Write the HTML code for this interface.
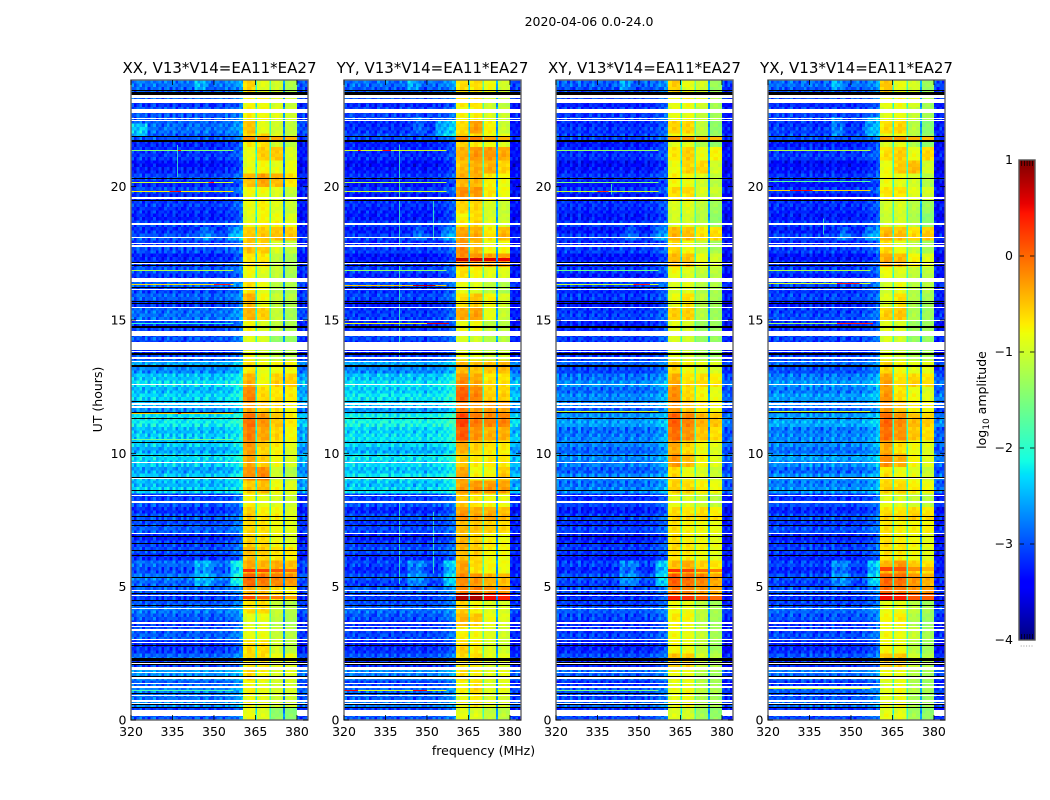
<!DOCTYPE html>
<html lang="en">
<head>
<meta charset="utf-8">
<title>2020-04-06 dynamic spectra</title>
<style>
html,body{margin:0;padding:0;background:#fff;width:1050px;height:800px;overflow:hidden}
svg{display:block}
text{font-family:"DejaVu Sans","Liberation Sans",sans-serif;fill:#000}
</style>
</head>
<body>
<svg id="chart" xmlns="http://www.w3.org/2000/svg" width="1050" height="800" viewBox="0 0 1050 800">
<rect width="1050" height="800" fill="#fff"/>
<text x="589" y="26" font-size="12.5" text-anchor="middle">2020-04-06 0.0-24.0</text>
<text x="483.5" y="755" font-size="12.5" text-anchor="middle">frequency (MHz)</text>
<text transform="translate(102,399.5) rotate(-90)" font-size="12.5" text-anchor="middle">UT (hours)</text>
<text transform="translate(986,400) rotate(-90)" font-size="12.5" text-anchor="middle">log<tspan dy="3" font-size="9">10</tspan><tspan dy="-3"> amplitude</tspan></text>
<g id="panels"></g>
<g id="colorbar"></g>
</svg>
<script>
// Axis ticks
const freqTicks = [320, 335, 350, 365, 380];
const hourTicks = [0, 5, 10, 15, 20];
const colorTicks = [-4, -3, -2, -1, 0, 1];
const panelTitles = ['XX, V13*V14=EA11*EA27', 'YY, V13*V14=EA11*EA27', 'XY, V13*V14=EA11*EA27', 'YX, V13*V14=EA11*EA27'];

// Frequency channels (MHz edges) and the four bright sub-bands
const channelEdges = [320,321,322,323,324,325,326,327,328,329,330,331,332,333,334,335,336,337,338,339,340,341,342,343,344,345,346,347,348,349,350,351,352,353,354,355,356,357,358,359,360,360.5,362,363.5,365,365.6,367,368.5,370,370.6,372,373.5,375,375.6,377,378.5,380,381,382,383,384];
const bandStarts = [360.5, 365.6, 370.6, 375.6];
const bandEnds = [365, 370, 375, 380];
const channelOffsets = [.08,-.1,.05,.14,-.06,.1,-.12,.03,.12,-.08,.02,-.13,.07,.1,-.05,.12,-.1,.0,.06,-.14,.09,.02,-.07,.12,.05,-.1,.04,.11,-.03,-.12,.06,.0,.1,-.08,.12,.04,.12,.2,.18,.3,.35,-.06,.05,.02,0,-.04,.05,.0,0,-.03,.04,-.02,0,-.02,.04,-.02,.06,-.08,.1,-.05];
const rowOffsets = [.05,-.1,.12,-.04,.08,-.12,.02,.1,-.07,.13,-.03,-.1,.09,.02,-.13,.06,.11,-.05,-.09,.07,.0,.12,-.11,.04,-.06,.1,.03,-.12,.08,-.02,.13,-.08,.05,-.1,.11,-.04,.07,-.13,.02,.09,-.06,.12,-.02,-.1,.1,.04,-.12,.06,.08,-.07,.13,-.03,-.11,.05,.1,-.09,.02,.12,-.05,-.1,.07,.03,-.13,.09,-.04,.11,-.08,.06,.01,-.12,.1,-.02,.08,-.1,.13,-.05,.03,.1,-.12,.06,-.07,.11,.0,-.09,.08,.04,-.11,.12,-.03,-.08,.1,.05,-.13,.07,-.01,.09];
// Hand-typed grain tile laid over the cells for the speckled look
const grainTile = [[.18,-.2,.06,.22,-.14,.02,-.22,.12],[-.08,.14,-.24,.04,.2,-.1,.16,-.04],[.22,-.02,.1,-.18,-.06,.24,-.12,.08],[-.16,.2,-.06,.12,-.22,.04,.18,-.2],[.04,-.24,.16,-.1,.14,-.18,.02,.22],[-.12,.08,.24,-.2,.06,.16,-.24,.1],[.2,-.14,-.04,.18,-.16,-.02,.12,-.08],[-.22,.1,.14,-.06,.22,-.12,.04,.16]];

// Overall calibration of the colour levels
const skyShift = -.12;
const bandShift = -.08;

// log10 amplitude of the sky background per half-hour bin, from 0 h upward
const xxBg = [-2.9,-2.7,-2.7,-2.6,-2.9,-3,-2.9,-2.9,-2.8,-2.9,-2.8,-2.8,-3,-3,-2.9,-3,-2.9,-2.35,-2.35,-2.3,-2.4,-2.25,-2.2,-2.45,-2.3,-2.3,-2.5,-3,-3,-2.9,-2.8,-2.9,-2.9,-2.95,-3,-3,-2.95,-3.1,-3.1,-3,-3.05,-3.15,-3.1,-3,-2.7,-2.95,-2.9,-2.8];
const yyBg = [-2.9,-2.8,-2.85,-2.7,-3,-3.05,-3,-2.95,-2.85,-2.9,-3,-3,-3,-3.05,-3,-3.05,-2.9,-2.3,-2.2,-2.25,-2.35,-2.15,-2.1,-2.4,-2.2,-2.3,-2.5,-3.1,-3.05,-3,-3.05,-3.05,-3,-3.05,-3.1,-3.1,-3.05,-3.15,-3.15,-3.1,-3.15,-3.2,-3.15,-3.05,-3,-3.05,-2.95,-2.85];
const xyBg = [-3,-2.9,-2.95,-2.85,-3.05,-3.1,-3.05,-3,-2.95,-3,-3,-3,-3.1,-3.1,-3.05,-3.1,-3,-2.7,-2.7,-2.7,-2.75,-2.65,-2.6,-2.7,-2.7,-2.7,-2.85,-3.1,-3.1,-3.05,-3.05,-3.1,-3.05,-3.1,-3.1,-3.1,-3.1,-3.15,-3.15,-3.1,-3.15,-3.2,-3.15,-3.1,-3,-3.1,-3,-2.9];
const yxBg = [-3,-2.85,-2.9,-2.8,-3,-3.05,-3,-2.95,-2.9,-2.95,-3,-3,-3.05,-3.05,-3,-3.05,-2.95,-2.65,-2.65,-2.6,-2.7,-2.6,-2.55,-2.7,-2.6,-2.65,-2.8,-3.05,-3.05,-3,-3,-3.05,-3,-3.05,-3.1,-3.1,-3.05,-3.15,-3.15,-3.1,-3.15,-3.2,-3.1,-3.05,-2.95,-3.05,-2.95,-2.85];

// log10 amplitude of each sub-band per half-hour bin, from 0 h upward
const xxBands = [[-.75,-.85,-1.3,-1.35],[-.75,-.8,-.95,-.95],[-.7,-.8,-.9,-.9],[-.55,-.7,-.9,-.85],[-.6,-.6,-.8,-.8],[-.55,-.55,-.9,-1.05],[-.8,-.8,-1,-1.1],[-.85,-.8,-1.05,-1.15],[-.6,-.55,-1,-1.1],[-.35,-.4,-.6,-.7],[.05,-.05,-.1,-.2],[-.3,-.35,-.3,-.4],[-.4,-.5,-.6,-.65],[-.5,-.55,-.75,-.85],[-.55,-.6,-.75,-.85],[-.5,-.65,-.7,-.85],[-.7,-.8,-.85,-.95],[-.5,-.4,-.75,-.85],[-.15,-.1,-.9,-1.1],[-.3,-.5,-.75,-.9],[-.2,-.5,-.65,-.85],[-.05,-.25,-.5,-.7],[0,-.2,-.45,-.65],[-.25,-.45,-.55,-.7],[-.1,-.55,-.6,-.65],[-.35,-.75,-.5,-.5],[-.6,-.75,-.7,-.7],[-.8,-.9,-1.1,-1.1],[-.85,-.9,-1.3,-1.3],[-.7,-.85,-1,-1.1],[-.35,-.5,-1,-1.2],[-.35,-.75,-1,-1.1],[-.6,-.8,-1.1,-1.15],[-.75,-.85,-1,-1.15],[-.6,-.6,-1,-1.15],[-.45,-.5,-.9,-1.05],[-.45,-.45,-.4,-.45],[-.85,-.7,-.75,-.85],[-.8,-.7,-.85,-1],[-.75,-.75,-.85,-1],[-.4,-.25,-.35,-.6],[-.8,-.7,-.8,-.75],[-.8,-.5,-.45,-.9],[-.6,-.55,-.9,-1.05],[-.4,-.8,-.9,-1],[-.7,-.75,-.85,-.95],[-.7,-.7,-.85,-.95],[-.55,-.85,-.95,-1.15]];
const yyBands = [[-.8,-.85,-1,-1.05],[-.8,-.65,-.85,-.9],[-.7,-.55,-.85,-.8],[-.6,-.7,-.85,-.8],[-.6,-.6,-.85,-.85],[-.5,-.65,-.85,-.95],[-.7,-.75,-.85,-.95],[-.35,-.45,-.75,-.85],[-.5,-.7,-.85,-.9],[-.1,-.1,-.15,-.2],[-.15,-.2,-.35,-.4],[-.25,-.55,-.7,-.75],[-.4,-.5,-.7,-.75],[-.35,-.5,-.65,-.75],[-.4,-.45,-.5,-.55],[-.2,-.3,-.3,-.4],[-.45,-.6,-.7,-.75],[-.25,-.2,-.2,-.25],[-.25,-.7,-.7,-.45],[-.5,-.65,-.65,-.65],[-.3,-.5,-.6,-.65],[.15,-.15,-.3,-.3],[.25,-.05,-.1,-.1],[-.05,-.2,-.2,-.25],[.1,-.1,-.5,-.5],[-.15,-.3,-.6,-.6],[-.35,-.4,-.4,-.35],[-.8,-.85,-1,-.95],[-.9,-.95,-1.1,-1.1],[-.75,-.7,-1,-1.05],[-.3,-.25,-.8,-1],[-.6,-.45,-.7,-.9],[-.8,-.85,-1.05,-1.15],[-.6,-.7,-.8,-.85],[-.1,-.15,-.2,-.2],[-.15,-.4,-.75,-.75],[-.25,-.3,-.6,-.35],[-.7,-.55,-.85,-.95],[-.55,-.55,-.9,-1],[-.15,-.2,-.6,-.75],[-.35,-.35,-.65,-.75],[-.4,-.3,-.3,-.5],[-.35,-.2,-.2,-.3],[-.5,-.6,-.75,-.85],[-.55,-.2,-.65,-.95],[-.75,-.7,-.9,-1],[-.6,-.55,-.9,-1],[-.6,-.6,-.75,-.95]];
const xyBands = [[-.85,-.9,-1.2,-1.3],[-.8,-.75,-1.1,-1.2],[-.8,-.75,-1.05,-1.15],[-.75,-.8,-1.1,-1.2],[-.45,-.5,-.95,-1.1],[-.7,-.75,-1,-1.2],[-.75,-.8,-1,-1.2],[-.65,-.7,-1.05,-1.2],[-.75,-.8,-1.05,-1.2],[-.05,-.1,-.2,-.3],[.1,0,-.1,-.3],[-.4,-.3,-.5,-.6],[-.6,-.65,-.75,-.85],[-.55,-.65,-.7,-.8],[-.6,-.7,-.75,-.8],[-.55,-.6,-.55,-.65],[-.8,-.85,-.95,-1.05],[-.5,-.55,-.65,-.75],[-.55,-.75,-.85,-.95],[-.2,-.4,-.7,-.85],[-.3,-.55,-.75,-.85],[.05,-.15,-.4,-.55],[.1,-.1,-.35,-.45],[-.15,-.4,-.6,-.7],[-.15,-.55,-.7,-.8],[-.3,-.6,-.55,-.65],[-.5,-.7,-.8,-.85],[-.85,-.95,-1.15,-1.2],[-.9,-.95,-1.3,-1.3],[-.8,-.85,-1.2,-1.2],[-.5,-.5,-1.1,-1.25],[-.8,-.6,-1.05,-1.2],[-.9,-.85,-1.1,-1.15],[-.75,-.85,-1,-1.05],[-.35,-.4,-.75,-.9],[-.55,-.75,-1,-1.2],[-.35,-.4,-.6,-.55],[-.9,-.9,-1.05,-1.3],[-.9,-.85,-1.05,-1.25],[-.55,-.55,-.85,-.95],[-.7,-.75,-.9,-1.05],[-.75,-.5,-.5,-.9],[-.65,-.5,-.8,-.7],[-.8,-.8,-1.1,-1.3],[-.5,-.5,-1,-1.3],[-.8,-.8,-1,-1.2],[-.75,-.7,-.85,-1.15],[-.5,-.8,-.9,-1.25]];
const yxBands = [[-.8,-.8,-1.2,-1.3],[-.8,-.75,-1.15,-1.25],[-.85,-.75,-1.1,-1.2],[-.75,-.8,-1.1,-1.2],[-.45,-.45,-.95,-1.1],[-.7,-.75,-1.05,-1.2],[-.75,-.8,-1,-1.2],[-.7,-.65,-1.1,-1.25],[-.8,-.8,-1.05,-1.2],[.05,-.05,-.15,-.2],[.05,0,-.2,-.35],[-.35,-.2,-.45,-.6],[-.6,-.65,-.75,-.85],[-.55,-.65,-.7,-.8],[-.6,-.7,-.7,-.7],[-.55,-.6,-.5,-.6],[-.8,-.85,-.95,-1.05],[-.5,-.55,-.65,-.75],[-.6,-.75,-.8,-.95],[-.15,-.35,-.7,-.85],[-.3,-.6,-.75,-.85],[.05,-.15,-.4,-.55],[.05,-.15,-.4,-.5],[-.15,-.4,-.65,-.7],[-.2,-.6,-.75,-.85],[-.25,-.6,-.5,-.6],[-.5,-.7,-.8,-.8],[-.85,-.95,-1.15,-1.2],[-.9,-.95,-1.3,-1.3],[-.8,-.85,-1.2,-1.2],[-.5,-.45,-1.15,-1.25],[-.85,-.6,-1.1,-1.2],[-.95,-.8,-1.1,-1.1],[-.75,-.85,-1,-1.05],[-.25,-.35,-.65,-.8],[-.55,-.8,-1,-1.2],[-.35,-.4,-.55,-.45],[-.95,-.9,-1.1,-1.35],[-.95,-.9,-1.1,-1.25],[-.6,-.6,-.8,-.9],[-.75,-.8,-.9,-1.1],[-.75,-.45,-.35,-.9],[-.6,-.5,-.8,-.55],[-.85,-.8,-1.1,-1.3],[-.55,-.5,-1.05,-1.35],[-.85,-.8,-1,-1.2],[-.75,-.7,-.85,-1.15],[-.45,-.8,-.9,-1.25]];

// Level of the three narrow gaps between sub-bands, per panel
const xxGaps = [-2.1, -1.9, -2.7];
const yyGaps = [-2.3, -1.8, -2.6];
const xyGaps = [-2.1, -1.8, -2.6];
const yxGaps = [-2.0, -1.9, -2.6];

// Brighter sky patches: panel (-1 = all), hour from, hour to, MHz from, MHz to, added level
const skyPatches = [[0,21.93,22.43,320,326,.45],[-1,18,18.56,345,350,.3],[-1,18,18.56,355,360.5,.35],[-1,23.6,24,343,347,.35],[1,21.9,22.5,353,360.5,.55],[1,22,22.6,345,350,.25],[3,21.9,22.6,343,347,.35],[3,21.9,22.6,355,360.5,.4],[-1,5.05,6,343,350,.35],[-1,5.05,6,356,360.5,.5]];

// Short strong bursts in the sub-bands: panel, hour from, hour to, level in bands 1-4
const bandBursts = [[1,17.21,17.33,.7,.65,.6,.55],[1,4.5,4.72,.8,.8,.5,.4],[0,5.55,5.66,.3,.2,.1,0],[0,4.55,4.68,.2,0,-.1,-.3],[2,4.5,4.7,.4,.3,.1,0],[2,5.55,5.66,.3,.2,0,-.1],[3,4.5,4.72,.5,.4,.1,.05],[3,5.6,5.75,.2,.1,-.2,-.4],[0,21.68,21.85,-.2,-.2,-.35,-.4],[1,21.68,21.85,-.1,-.1,-.3,-.4],[2,21.68,21.85,-.25,-.25,-.4,-.45],[3,21.68,21.85,-.25,-.25,-.4,-.45]];

// Interference: panel, hour, level across the 320-360 MHz sky range
const rfiLines = [[0,21.36,-1.5],[0,20.16,-1],[0,19.85,-.7],[0,16.86,-1.2],[0,16.35,-.6],[0,14.89,-2],[0,11.52,-.5],[0,10.53,-1.6],[0,1.12,-1.8],[1,21.36,-1],[1,20.16,-1.2],[1,19.85,-1],[1,16.86,-1.4],[1,16.33,-.5],[1,14.89,-.8],[1,1.12,-.9],[2,21.36,-1.4],[2,20.16,-1.5],[2,19.85,-1],[2,16.86,-1.6],[2,16.35,-1],[2,11.58,-1],[2,1.12,-1.5],[3,21.36,-1.2],[3,20.2,-1.7],[3,19.88,-.6],[3,16.86,-1.2],[3,16.38,-.9],[3,14.89,-1.3],[3,11.58,-1],[3,1.2,-1]];
// Red interference spots: panel, hour, MHz from, MHz to, level
const rfiSpots = [[0,21.36,337,338,.4],[0,19.85,334,338,.5],[0,20.16,348,350,.3],[0,16.35,350,356,.4],[0,11.52,337,338,.5],[1,21.36,325,326,.5],[1,21.36,334,337,.5],[1,16.33,345,353,.7],[1,14.89,350,358,.6],[1,1.12,320,325,.5],[1,1.12,345,350,.5],[2,19.85,335,339,.3],[2,16.35,348,354,.4],[3,19.88,328,336,.5],[3,14.89,345,358,.4],[3,16.38,345,353,.4]];
// Thin vertical interference: panel, MHz, hour from, hour to
const vLines = [[0,336.7,20.37,21.57],[1,340,19.6,21.58],[1,340,17.8,19.5],[1,340,15.65,17.05],[1,340,13.5,15.6],[1,340,5.1,8.2],[1,352,18,19.5],[1,352,5.5,7.8],[2,340,19.7,20.1],[3,340,18.2,18.8]];

// Flagged time ranges (hours): white across the whole panel, white outside bands, black drop-outs
const flaggedHours = [[23.31,23.42],[23.15,23.29],[22.76,22.92],[22.54,22.58],[22.48,22.515],[19.53,19.61],[18.56,18.64],[18.06,18.1],[17.84,17.87],[17.75,17.81],[17.09,17.15],[16.43,16.59],[16.13,16.16],[15.45,15.5],[14.96,15],[14.4,14.6],[13.88,14.18],[13.8,13.84],[13.53,13.62],[13.43,13.47],[12.56,12.6],[11.82,11.88],[11.71,11.76],[9.64,9.675],[9.05,9.08],[8.39,8.43],[8.14,8.21],[7.62,7.66],[6.96,7],[4.83,4.875],[4.66,4.7],[4.15,4.19],[3.6,3.66],[3.48,3.525],[3.33,3.41],[2.99,3.03],[2.9,2.94],[2.09,2.15],[1.86,1.98],[1.75,1.79],[1.53,1.6],[1.35,1.38],[1.2,1.275],[.9,.94],[.69,.75],[.59,.63]];
const edgeFlaggedHours = [[.15,.39]];
const dropoutHours = [[23.59,23.625],[23.44,23.55],[21.85,21.91],[21.68,21.75],[20.3,20.34],[19.47,19.51],[17.15,17.19],[17.03,17.07],[16.19,16.25],[15.66,15.7],[15.59,15.63],[14.7,14.775],[13.7,13.75],[13.23,13.3],[11.91,11.96],[11.5,11.54],[11.3,11.325],[10.39,10.425],[9.91,9.95],[9.08,9.11],[8.58,8.61],[7.6,7.64],[7.47,7.5],[7.29,7.31],[6.86,6.9],[6.61,6.65],[6.34,6.375],[6.14,6.18],[5.31,5.35],[4.99,5.025],[4.71,4.75],[4.46,4.5],[4.3,4.32],[2.775,2.81],[2.21,2.34],[2.14,2.175],[2.06,2.1],[1.64,1.66],[.96,1],[.56,.6],[.45,.49]];

const panelLefts = [131, 344, 556, 768];
const panelBg = [xxBg, yyBg, xyBg, yxBg];
const panelBands = [xxBands, yyBands, xyBands, yxBands];
const panelGaps = [xxGaps, yyGaps, xyGaps, yxGaps];
const plotTop = 80, plotBottom = 720, plotWidth = 177;
const fineRows = 192;
const NS = 'http://www.w3.org/2000/svg';

function yOf(h) { return plotBottom - h * (plotBottom - plotTop) / 24; }
function xOf(left, mhz) { return left + (mhz - 320) * plotWidth / 64; }
function seg(t, pts) {
  for (let i = 1; i < pts.length; i++) {
    if (t <= pts[i][0]) {
      const a = pts[i - 1], b = pts[i];
      return a[1] + (b[1] - a[1]) * (t - a[0]) / (b[0] - a[0]);
    }
  }
  return pts[pts.length - 1][1];
}
function jet(v) {
  const t = Math.max(0, Math.min(1, (v + 4) / 5));
  const r = seg(t, [[0, 0], [.35, 0], [.66, 1], [.89, 1], [1, .5]]);
  const g = seg(t, [[0, 0], [.125, 0], [.375, 1], [.64, 1], [.91, 0], [1, 0]]);
  const b = seg(t, [[0, .5], [.11, 1], [.34, 1], [.65, 0], [1, 0]]);
  return 'rgb(' + Math.round(r * 255) + ',' + Math.round(g * 255) + ',' + Math.round(b * 255) + ')';
}
function mk(parent, tag, attrs) {
  const el = document.createElementNS(NS, tag);
  for (const k in attrs) el.setAttribute(k, attrs[k]);
  parent.appendChild(el);
  return el;
}
function cellLevel(p, r, c) {
  const hour = (r + .5) * 24 / fineRows;
  const bin = Math.floor(r / 4);
  const f = (channelEdges[c] + channelEdges[c + 1]) / 2;
  const row = rowOffsets[Math.floor(r / 2)];
  const off = channelOffsets[c];
  const grain = grainTile[(r + p * 3) % 8][(c + p) % 8];
  if (f < 360.5) {
    let v = panelBg[p][bin] + skyShift + off + row + grain;
    skyPatches.forEach(function (s) {
      if ((s[0] === -1 || s[0] === p) && hour >= s[1] && hour < s[2] && f >= s[3] && f < s[4]) v += s[5];
    });
    return v;
  }
  for (let k = 0; k < 4; k++) {
    if (f >= bandStarts[k] && f < bandEnds[k]) return panelBands[p][bin][k] + bandShift + off + (row + grain) * .3;
    if (k < 3 && f >= bandEnds[k] && f < bandStarts[k + 1]) return panelGaps[p][k] + row + grain * .5;
  }
  return panelBg[p][bin] + skyShift - .15 + off + row + grain;
}
// Crisp horizontal bar between two hours, at least one pixel tall
function crispBar(parent, x, w, h0, h1, fill) {
  const top = Math.round(yOf(h1));
  const height = Math.max(1, Math.round(yOf(h0)) - top);
  return mk(parent, 'rect', { x: x, y: top, width: w, height: height, fill: fill, 'shape-rendering': 'crispEdges' });
}

const panelsRoot = document.getElementById('panels');
panelLefts.forEach(function (left, p) {
  const g = mk(panelsRoot, 'g', {});
  
  

  const title = mk(g, 'text', { x: left + plotWidth / 2, y: 73, 'font-size': 15, 'text-anchor': 'middle' });
  
  
  title.textContent = panelTitles[p];

  // Heatmap cells
  for (let r = 0; r < fineRows; r++) {
    for (let c = 0; c < channelEdges.length - 1; c++) {
      const x0 = xOf(left, channelEdges[c]);
      const x1 = xOf(left, channelEdges[c + 1]);
      const y1 = yOf(r * 24 / fineRows);
      const y0 = yOf((r + 1) * 24 / fineRows);
      const cell = mk(g, 'rect', { x: x0, y: y0, width: x1 - x0 + .3, height: y1 - y0 + .3, fill: jet(cellLevel(p, r, c)), 'shape-rendering': 'crispEdges' });
      
      
    }
  }

  // Sub-band bursts
  bandBursts.filter(function (b) { return b[0] === p; }).forEach(function (b) {
    for (let k = 0; k < 4; k++) {
      const burst = crispBar(g, xOf(left, bandStarts[k]), xOf(left, bandEnds[k]) - xOf(left, bandStarts[k]), b[1], b[2], jet(b[3 + k]));
      
      
    }
  });

  // Vertical interference
  vLines.filter(function (l) { return l[0] === p; }).forEach(function (l) {
    const line = mk(g, 'rect', { x: Math.round(xOf(left, l[1])), y: yOf(l[3]), width: 1, height: yOf(l[2]) - yOf(l[3]), fill: jet(-1.9), opacity: .8, 'shape-rendering': 'crispEdges' });
    
    
  });

  // Horizontal interference
  rfiLines.filter(function (l) { return l[0] === p; }).forEach(function (l) {
    const line = crispBar(g, left, xOf(left, 357) - left, l[1] - .03, l[1], jet(l[2]));
    
    
  });
  rfiSpots.filter(function (s) { return s[0] === p; }).forEach(function (s) {
    const spot = crispBar(g, xOf(left, s[2]), xOf(left, s[3]) - xOf(left, s[2]), s[1] - .03, s[1], jet(s[4]));
    
    
  });

  // Flagged and dropped time ranges
  flaggedHours.forEach(function (h) {
    const bar = crispBar(g, left, plotWidth, h[0], h[1], '#fff');
    
    
  });
  edgeFlaggedHours.forEach(function (h) {
    const lowBar = crispBar(g, left, xOf(left, bandStarts[0]) - left, h[0], h[1], '#fff');
    
    
    const highBar = crispBar(g, xOf(left, bandEnds[3]), left + plotWidth - xOf(left, bandEnds[3]), h[0], h[1], '#fff');
    
    
  });
  dropoutHours.forEach(function (h) {
    const bar = crispBar(g, left, plotWidth, h[0], h[1], '#000');
    
    
  });

  // Frame
  const frame = mk(g, 'rect', { x: left, y: plotTop, width: plotWidth, height: plotBottom - plotTop, fill: 'none', stroke: '#666', 'stroke-width': 1.4 });
  
  

  // Frequency ticks
  freqTicks.forEach(function (t) {
    const x = xOf(left, t);
    const bottomTick = mk(g, 'line', { x1: x, x2: x, y1: plotBottom, y2: plotBottom - 5, stroke: '#000', 'stroke-width': .8 });
    
    
    const topTick = mk(g, 'line', { x1: x, x2: x, y1: plotTop, y2: plotTop + 5, stroke: '#000', 'stroke-width': .8 });
    
    
    const label = mk(g, 'text', { x: x, y: 736, 'font-size': 12.5, 'text-anchor': 'middle' });
    
    
    label.textContent = t;
  });

  // Hour ticks
  hourTicks.forEach(function (t) {
    const y = yOf(t);
    const leftTick = mk(g, 'line', { x1: left, x2: left + 5, y1: y, y2: y, stroke: '#000', 'stroke-width': .8 });
    
    
    const rightTick = mk(g, 'line', { x1: left + plotWidth, x2: left + plotWidth - 5, y1: y, y2: y, stroke: '#000', 'stroke-width': .8 });
    
    
    const label = mk(g, 'text', { x: left - 4.5, y: y + 4.5, 'font-size': 12.5, 'text-anchor': 'end' });
    
    
    label.textContent = t;
  });
});

// Colorbar
const cbRoot = document.getElementById('colorbar');
const cbLeft = 1019, cbWidth = 16, cbTop = 160, cbBottom = 640;
function cbY(v) { return cbBottom - (v + 4) * (cbBottom - cbTop) / 5; }
for (let i = 0; i < 240; i++) {
  const v0 = -4 + i * 5 / 240;
  const v1 = -4 + (i + 1) * 5 / 240;
  const step = mk(cbRoot, 'rect', { x: cbLeft, y: cbY(v1), width: cbWidth, height: cbY(v0) - cbY(v1) + .4, fill: jet((v0 + v1) / 2), 'shape-rendering': 'crispEdges' });
  
  
}
colorTicks.forEach(function (t) {
  const y = cbY(t);
  const leftTick = mk(cbRoot, 'line', { x1: cbLeft, x2: cbLeft + 5, y1: y, y2: y, stroke: '#000', 'stroke-width': .8 });
  
  
  const rightTick = mk(cbRoot, 'line', { x1: cbLeft + cbWidth, x2: cbLeft + cbWidth - 5, y1: y, y2: y, stroke: '#000', 'stroke-width': .8 });
  
  
  const label = mk(cbRoot, 'text', { x: 1013, y: y + 4, 'font-size': 12.5, 'text-anchor': 'end' });
  
  
  label.textContent = t < 0 ? '\u2212' + Math.abs(t) : String(t);
});
[2.7, 5.4, 8.1, 10.8, 13.5].forEach(function (dx) {
  const topMark = mk(cbRoot, 'line', { x1: cbLeft + dx, x2: cbLeft + dx, y1: cbTop, y2: cbTop + 6, stroke: '#000', 'stroke-width': .7 });
  
  
  const bottomMark = mk(cbRoot, 'line', { x1: cbLeft + dx, x2: cbLeft + dx, y1: cbBottom, y2: cbBottom - 6, stroke: '#000', 'stroke-width': .7 });
  
  
  const dot = mk(cbRoot, 'rect', { x: cbLeft + dx - 1, y: 645.5, width: 1, height: 1, fill: '#999' });
  
  
});
const cbFrame = mk(cbRoot, 'rect', { x: cbLeft, y: cbTop, width: cbWidth, height: cbBottom - cbTop, fill: 'none', stroke: '#555', 'stroke-width': 1.4 });


</script>
</body>
</html>
